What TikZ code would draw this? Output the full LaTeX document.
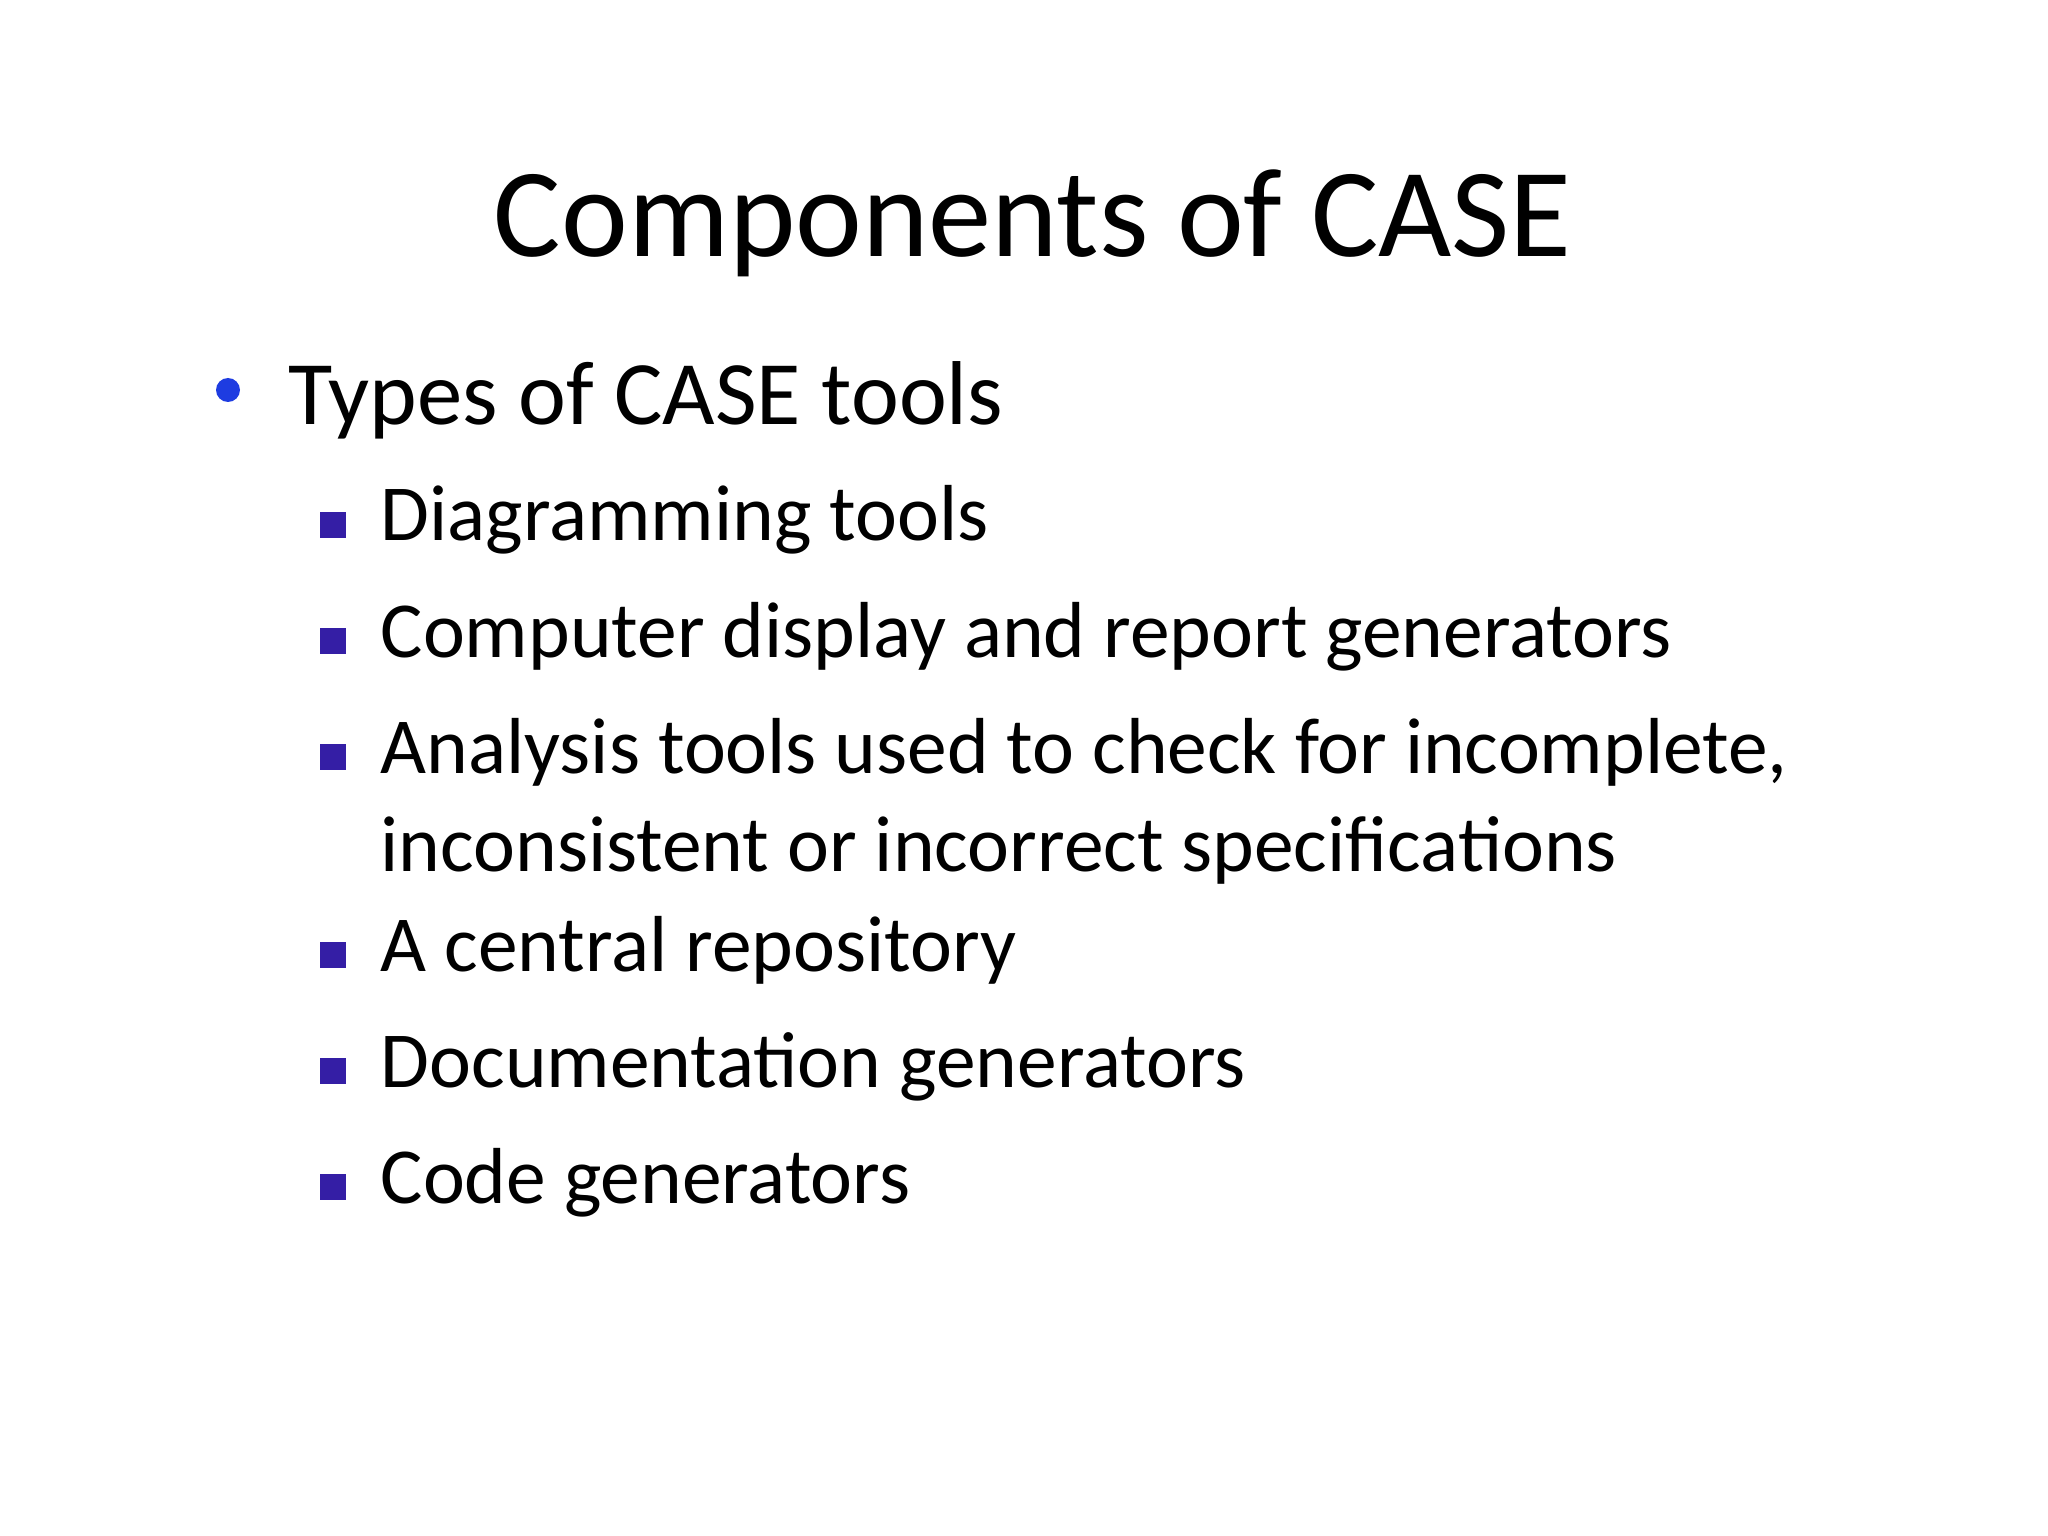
\documentclass[tikz,border=0pt]{standalone}
\usepackage{fontspec}
\setmainfont{Carlito}
\definecolor{bblue}{RGB}{30,60,225}
\definecolor{sqc}{RGB}{52,30,165}
\begin{document}
\begin{tikzpicture}[x=1cm,y=1cm,
  lone/.style={anchor=base west,inner sep=0pt,font=\fontsize{25.8}{30}\selectfont},
  ltwo/.style={anchor=base west,inner sep=0pt,font=\fontsize{22.6}{27}\selectfont,align=left},
  sq/.style={fill=sqc,minimum size=0.26cm,inner sep=0pt}]
\useasboundingbox (0,0) rectangle (20.48,-15.36);
\fill[white] (0,0) rectangle (20.48,-15.36);
\node[anchor=base,inner sep=0pt,font=\fontsize{36}{40}\selectfont] (title) at (10.33,-2.57) {Components of CASE};
\fill[bblue] (2.28,-3.90) circle (0.12);
\node[lone] (t1) at (2.88,-4.24) {Types of CASE tools};
\foreach \y/\n/\t in {5.41/a/Diagramming tools, 6.57/b/Computer display and report generators, 9.71/d/A central repository, 10.87/e/Documentation generators, 12.03/f/Code generators}{
  \node[sq] (s\n) at (3.33,-\y+0.16) {};
  \node[ltwo] (\n) at (3.80,-\y) {\t};
}
\node[sq] (sc) at (3.33,-7.73+0.16) {};
\node[ltwo] (c) at (3.80,-7.73) {Analysis tools used to check for incomplete,};
\node[ltwo] (c2) at (3.80,-8.71) {inconsistent or incorrect specifications};
\end{tikzpicture}
\end{document}
